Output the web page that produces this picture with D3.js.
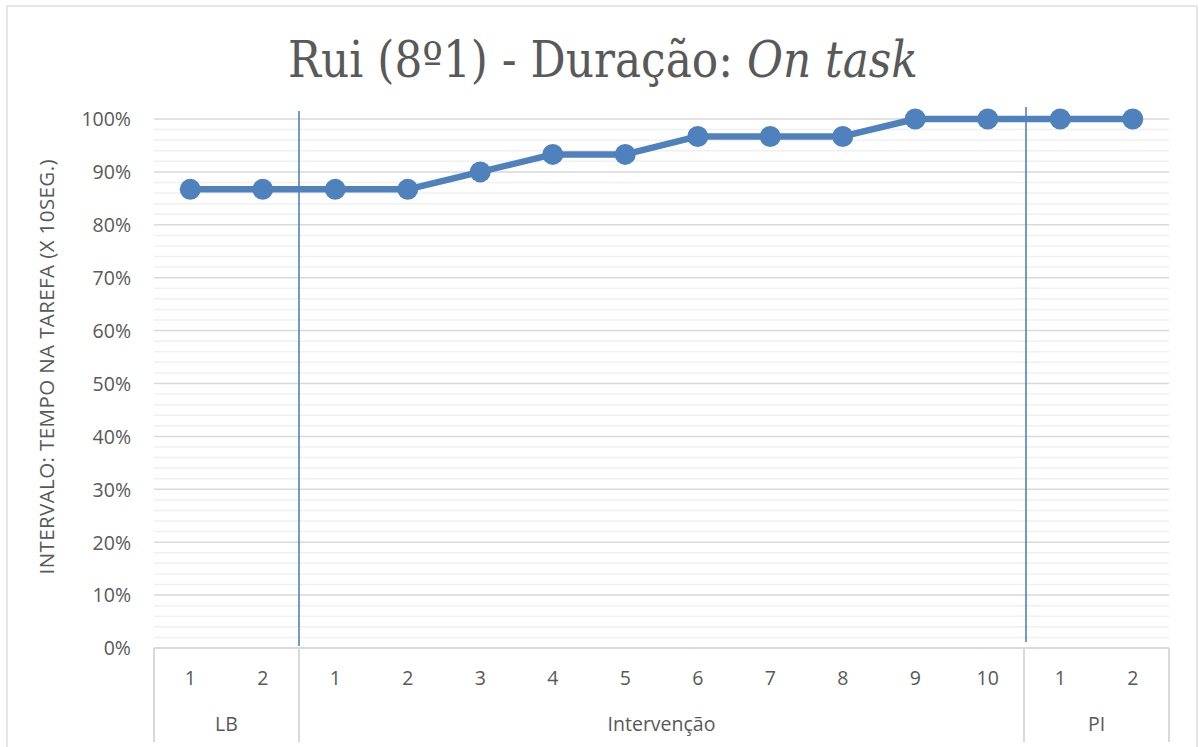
<!DOCTYPE html>
<html>
<head>
<meta charset="utf-8">
<script src="https://cdn.jsdelivr.net/npm/d3@7"></script>
<style>
  body { margin: 0; background: #fff; }
  svg { display: block; }
</style>
</head>
<body>
<div id="chart"></div>
<script>
// fases e sessões
const phases = ["LB", "Intervenção", "PI"]
const sessions = [
  ["1", "2"],
  ["1", "2", "3", "4", "5", "6", "7", "8", "9", "10"],
  ["1", "2"]
]
// % de intervalos on task (x/30)
const values = [
  0.867, 0.867,
  0.867, 0.867, 0.90, 0.933, 0.933, 0.967, 0.967, 0.967, 1.0, 1.0,
  1.0, 1.0
]
const yTicks = [0, 0.1, 0.2, 0.3, 0.4, 0.5, 0.6, 0.7, 0.8, 0.9, 1.0]

const width = 1199
const height = 747
const margin = {left: 154, right: 30, top: 119, bottom: 99}
const blue = "#4f81bd"
const textColor = "#595959"
const font = "'Open Sans', 'Noto Sans', sans-serif"
const fontSize = 19.5

// lista plana de pontos
let points = []
phases.forEach((p, i) => {
  sessions[i].forEach(s => {
    points.push({phase: p, session: s, key: p + "-" + s})
  })
})
points.forEach((d, i) => d.value = values[i])

const svg = d3.select("#chart").append("svg")
  .attr("width", width)
  .attr("height", height)

// moldura do gráfico
svg.append("rect")
  .attr("x", 7).attr("y", 6)
  .attr("width", 1190).attr("height", 760)
  .attr("fill", "#fff")
  .attr("stroke", "#d9d9d9")
  .attr("stroke-width", 1.3)

const x = d3.scaleBand()
  .domain(points.map(d => d.key))
  .range([margin.left, width - margin.right])

const y = d3.scaleLinear()
  .domain([0, 1])
  .range([height - margin.bottom, margin.top])

// linhas de grelha secundárias (2%)
const minor = d3.range(0, 101, 2).map(v => v / 100).filter(v => Math.round(v * 100) % 10 != 0)
svg.append("g")
  .selectAll("line")
  .data(minor)
  .join("line")
  .attr("x1", x.range()[0]).attr("x2", x.range()[1])
  .attr("y1", d => y(d)).attr("y2", d => y(d))
  .attr("stroke", "#f0f0f0")
  .attr("stroke-width", 1.5)

// grelha principal
svg.append("g")
  .selectAll("line")
  .data(yTicks.filter(d => d > 0))
  .join("line")
  .attr("x1", x.range()[0]).attr("x2", x.range()[1])
  .attr("y1", d => y(d)).attr("y2", d => y(d))
  .attr("stroke", "#d9d9d9")
  .attr("stroke-width", 1.5)

// eixo y
const yAxis = svg.append("g")
  .attr("transform", `translate(${margin.left - 23},0)`)
  .call(d3.axisLeft(y).tickValues(yTicks).tickFormat(d3.format(".0%")).tickSize(0).tickPadding(0))
yAxis.select(".domain").remove()
yAxis.selectAll("text")
  .attr("fill", textColor)
  .attr("font-family", font)
  .attr("font-size", fontSize)
  .attr("dy", "0.35em")

// título do eixo y
svg.append("text")
  .attr("transform", "translate(54,367) rotate(-90)")
  .attr("text-anchor", "middle")
  .attr("fill", textColor)
  .attr("font-family", font)
  .attr("font-size", 20.5)
  .attr("textLength", 415)
  .attr("lengthAdjust", "spacing")
  .text("INTERVALO: TEMPO NA TAREFA (X 10SEG.)")

// eixo de categorias (2 níveis)
const axisY = y(0)
const axisBottom = 742
const catG = svg.append("g")
catG.append("line")
  .attr("x1", x.range()[0]).attr("x2", x.range()[1])
  .attr("y1", axisY).attr("y2", axisY)
  .attr("stroke", "#d9d9d9").attr("stroke-width", 2)

// limites de fase
let bounds = [x.range()[0]]
let idx = 0
phases.forEach((p, i) => {
  idx += sessions[i].length
  bounds.push(x(points[idx - 1].key) + x.bandwidth())
})
catG.selectAll("line.sep")
  .data(bounds)
  .join("line")
  .attr("class", "sep")
  .attr("x1", d => d).attr("x2", d => d)
  .attr("y1", axisY).attr("y2", axisBottom)
  .attr("stroke", "#d9d9d9").attr("stroke-width", 2)

catG.selectAll("text.sess")
  .data(points)
  .join("text")
  .attr("class", "sess")
  .attr("x", d => x(d.key) + x.bandwidth() / 2)
  .attr("y", 678)
  .attr("dy", "0.35em")
  .attr("text-anchor", "middle")
  .attr("fill", textColor)
  .attr("font-family", font)
  .attr("font-size", fontSize)
  .text(d => d.session)

catG.selectAll("text.phase")
  .data(phases)
  .join("text")
  .attr("class", "phase")
  .attr("x", (d, i) => (bounds[i] + bounds[i + 1]) / 2)
  .attr("y", 724)
  .attr("dy", "0.35em")
  .attr("text-anchor", "middle")
  .attr("fill", textColor)
  .attr("font-family", font)
  .attr("font-size", fontSize)
  .text(d => d)

// linhas de mudança de fase (desenhadas à mão)
const dividers = [
  {x: bounds[1], y1: 111, y2: 646},
  {x: bounds[2] + 2, y1: 107, y2: 642}
]
svg.append("g")
  .selectAll("line")
  .data(dividers)
  .join("line")
  .attr("x1", d => d.x).attr("x2", d => d.x)
  .attr("y1", d => d.y1).attr("y2", d => d.y2)
  .attr("stroke", blue)
  .attr("stroke-width", 1.6)

// série
const line = d3.line()
  .x(d => x(d.key) + x.bandwidth() / 2)
  .y(d => y(d.value))

svg.append("path")
  .datum(points)
  .attr("d", line)
  .attr("fill", "none")
  .attr("stroke", blue)
  .attr("stroke-width", 6.5)
  .attr("stroke-linejoin", "round")

svg.append("g")
  .selectAll("circle")
  .data(points)
  .join("circle")
  .attr("cx", d => x(d.key) + x.bandwidth() / 2)
  .attr("cy", d => y(d.value))
  .attr("r", 10.5)
  .attr("fill", blue)

// título
const title = svg.append("text")
  .attr("x", 603)
  .attr("y", 77)
  .attr("text-anchor", "middle")
  .attr("fill", textColor)
  .attr("font-family", "'DejaVu Serif', serif")
  .attr("font-size", 50)
title.append("tspan").text("Rui (8º1) - Duração: ")
title.append("tspan").attr("font-style", "italic").text("On task")

// ajustar largura do título (fonte condensada no original)
const bb = title.node().getBBox()
const targetW = 630
const sx = targetW / bb.width
title.attr("transform", `translate(603,0) scale(${sx},1) translate(-603,0)`)
</script>
</body>
</html>
